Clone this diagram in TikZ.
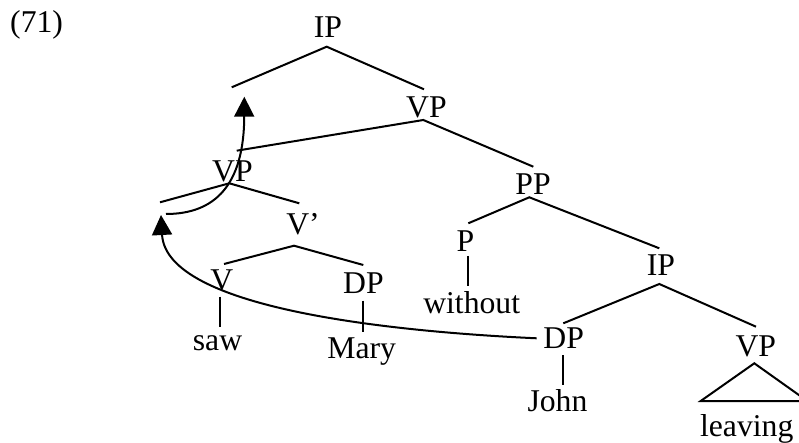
\documentclass[tikz,border=0pt]{standalone}
\usepackage{fontspec}
\setmainfont{Liberation Serif}
\usetikzlibrary{calc,arrows.meta}
\begin{document}
\begin{tikzpicture}[x=1pt,y=-1pt,
  lbl/.style={anchor=base,inner sep=0pt,font=\fontsize{31.7}{38}\selectfont},
  br/.style={line width=2pt},
  mv/.style={line width=2pt,-{Triangle[length=20pt,width=20pt]}}]
\useasboundingbox (0,0) rectangle (799,443);
\clip (0,0) rectangle (799,443);
% labels
\node[lbl,anchor=base west] (ex) at (10,33) {(71)};
\node[lbl] (IP1) at (328,38) {IP};
\node[lbl] (VP1) at (426.5,118) {VP};
\node[lbl] (VP2) at (232.5,181.5) {VP};
\node[lbl] (Vb) at (303,235) {V’};
\node[lbl] (V) at (221.7,290) {V};
\node[lbl] (DP1) at (363.5,293.3) {DP};
\node[lbl] (saw) at (217.5,350) {saw};
\node[lbl] (Mary) at (361.7,358) {Mary};
\node[lbl] (PP) at (533,195) {PP};
\node[lbl] (P) at (465.5,251.7) {P};
\node[lbl] (without) at (471.7,313.3) {without};
\node[lbl] (IP2) at (661,276) {IP};
\node[lbl] (DP2) at (563.7,348.3) {DP};
\node[lbl] (VP3) at (755.8,356.7) {VP};
\node[lbl] (John) at (557.5,411.7) {John};
\node[lbl] (leaving) at (746.7,436.7) {leaving};
% empty positions
\coordinate (e1) at (231.7,87.3);
\coordinate (e2) at (160,202.3);
% branches
\draw[br] (e1) -- ($(IP1.base)+(-1.3,8.7)$) -- ($(VP1.base)+(-2.5,-28.7)$);
\draw[br] ($(VP2.base)+(4.2,-30.8)$) -- ($(VP1.base)+(-3.2,2)$) -- ($(PP.base)+(0.3,-28.3)$);
\draw[br] (e2) -- ($(VP2.base)+(-3.2,1.8)$) -- ($(Vb.base)+(-3.7,-31.7)$);
\draw[br] ($(V.base)+(2.3,-26)$) -- ($(Vb.base)+(-9,10.7)$) -- ($(DP1.base)+(-0.2,-28.3)$);
\draw[br] ($(V.base)+(-1.7,6.7)$) -- ($(saw.base)+(2.5,-23.3)$);
\draw[br] ($(DP1.base)+(-0.2,7.4)$) -- ($(Mary.base)+(1.6,-26.3)$);
\draw[br] ($(P.base)+(2.8,-28.4)$) -- ($(PP.base)+(-3.7,2.3)$) -- ($(IP2.base)+(-1.7,-27.7)$);
\draw[br] ($(P.base)+(2.8,4.3)$) -- ($(without.base)+(-3.4,-27.3)$);
\draw[br] ($(DP2.base)+(-0.4,-25)$) -- ($(IP2.base)+(-1.7,8)$) -- ($(VP3.base)+(0.2,-30)$);
\draw[br] ($(DP2.base)+(-0.4,6.7)$) -- ($(John.base)+(5.8,-26.7)$);
\draw[br,line join=miter] ($(VP3.base)+(-55.1,44.3)$) -- ($(VP3.base)+(-1.5,6.6)$) -- ($(VP3.base)+(51.5,44.3)$) -- cycle;
% movement arrows
\draw[mv] ($(DP2.base)+(-27,-10)$) .. controls (400,332) and (166,310) .. ($(e2)+(1,12.7)$);
\draw[mv] ($(e2)+(6,11.7)$) .. controls (215,214) and (244,185) .. ($(e1)+(12.6,9.4)$);
\end{tikzpicture}
\end{document}
